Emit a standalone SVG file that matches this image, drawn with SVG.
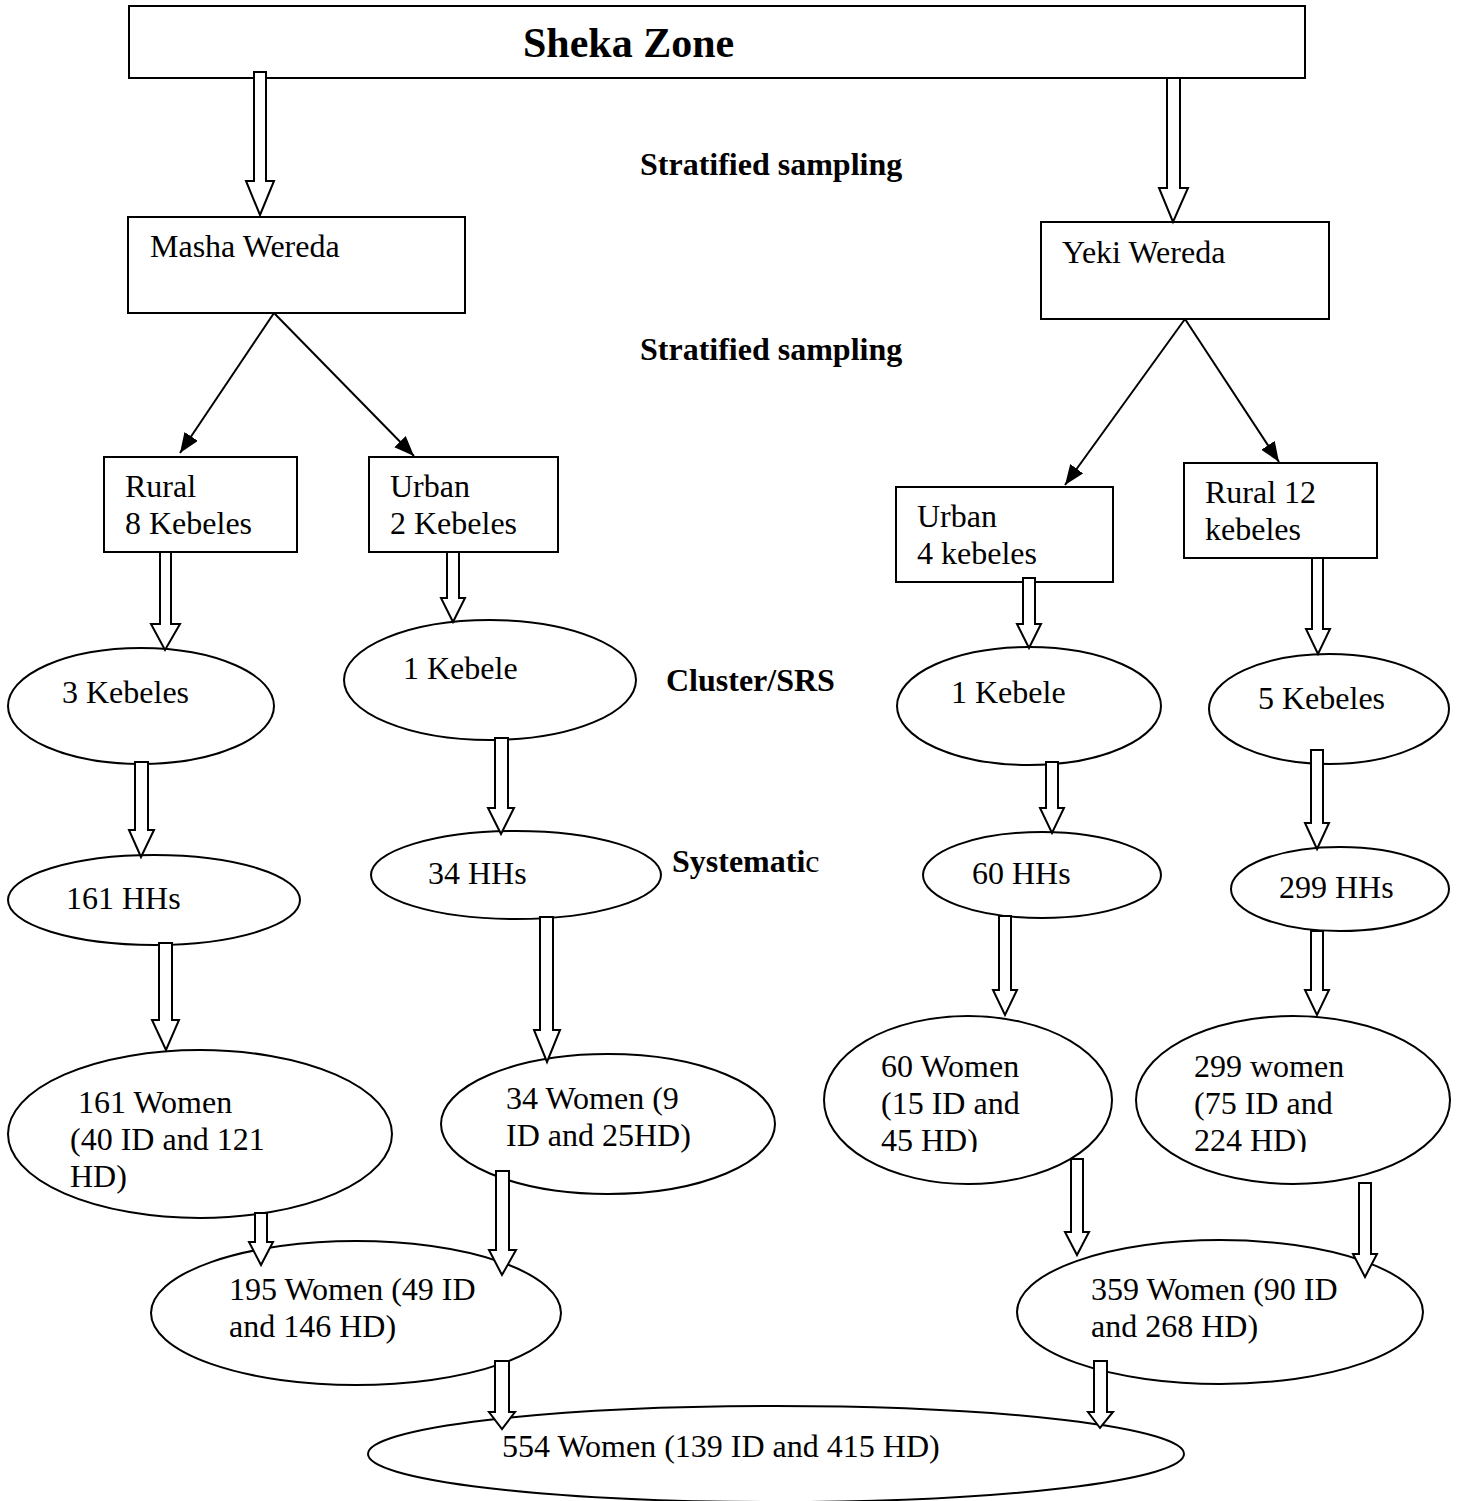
<svg xmlns="http://www.w3.org/2000/svg" width="1458" height="1501" viewBox="0 0 1458 1501">
<style>
.s{fill:#fff;stroke:#000;stroke-width:2}
.t{font-family:"Liberation Serif","Times New Roman",serif;font-size:32px;fill:#000}
.b{font-family:"Liberation Serif","Times New Roman",serif;font-size:32px;font-weight:bold;fill:#000}
.ln{stroke:#000;stroke-width:2;fill:none}
.ba{fill:#fff;stroke:#000;stroke-width:2;stroke-linejoin:miter}
</style>
<defs>
<marker id="ahb" viewBox="0 0 20 16" refX="20" refY="8" markerWidth="20" markerHeight="16" orient="auto" markerUnits="userSpaceOnUse">
<path d="M0,0 L20,8 L0,16 Z" fill="#000"/>
</marker>
<clipPath id="c1"><rect x="824" y="1016" width="290" height="136"/></clipPath>
<clipPath id="c2"><rect x="1136" y="1016" width="316" height="136"/></clipPath>
</defs>
<rect width="1458" height="1501" fill="#fff"/>

<g id="sheka"><rect class="s" x="129" y="6" width="1176" height="72"/><text class="b" x="523" y="57" style="font-size:42px">Sheka Zone</text></g>
<g id="labels">
<text class="b" x="640" y="175">Stratified sampling</text>
<text class="b" x="640" y="360">Stratified sampling</text>
<text class="b" x="666" y="691">Cluster/SRS</text>
<text class="b" x="672" y="872">Systemati<tspan style="font-weight:normal">c</tspan></text>
</g>
<g id="masha"><rect class="s" x="128" y="217" width="337" height="96"/><text class="t" x="150" y="257">Masha Wereda</text></g>
<g id="yeki"><rect class="s" x="1041" y="222" width="288" height="97"/><text class="t" x="1062" y="263">Yeki Wereda</text></g>
<g id="rural8"><rect class="s" x="104" y="457" width="193" height="95"/><text class="t" x="125" y="497">Rural</text><text class="t" x="125" y="534">8 Kebeles</text></g>
<g id="urban2"><rect class="s" x="369" y="457" width="189" height="95"/><text class="t" x="390" y="497">Urban</text><text class="t" x="390" y="534">2 Kebeles</text></g>
<g id="urban4"><rect class="s" x="896" y="487" width="217" height="95"/><text class="t" x="917" y="527">Urban</text><text class="t" x="917" y="564">4 kebeles</text></g>
<g id="rural12"><rect class="s" x="1184" y="463" width="193" height="95"/><text class="t" x="1205" y="503">Rural 12</text><text class="t" x="1205" y="540">kebeles</text></g>

<g id="k3"><ellipse class="s" cx="141" cy="706" rx="133" ry="58"/><text class="t" x="62" y="703">3 Kebeles</text></g>
<g id="k1m"><ellipse class="s" cx="490" cy="680" rx="146" ry="60"/><text class="t" x="403" y="679">1 Kebele</text></g>
<g id="k1y"><ellipse class="s" cx="1029" cy="706" rx="132" ry="59"/><text class="t" x="951" y="703">1 Kebele</text></g>
<g id="k5"><ellipse class="s" cx="1329" cy="709" rx="120" ry="55"/><text class="t" x="1258" y="709">5 Kebeles</text></g>

<g id="hh161"><ellipse class="s" cx="154" cy="900" rx="146" ry="45"/><text class="t" x="66" y="909">161 HHs</text></g>
<g id="hh34"><ellipse class="s" cx="516" cy="875" rx="145" ry="44"/><text class="t" x="428" y="884">34 HHs</text></g>
<g id="hh60"><ellipse class="s" cx="1042" cy="875" rx="119" ry="43"/><text class="t" x="972" y="884">60 HHs</text></g>
<g id="hh299"><ellipse class="s" cx="1340" cy="889" rx="109" ry="42"/><text class="t" x="1279" y="898">299 HHs</text></g>

<g id="w161"><ellipse class="s" cx="200" cy="1134" rx="192" ry="84"/><text class="t" x="78" y="1113">161 Women</text><text class="t" x="70" y="1150">(40 ID and 121</text><text class="t" x="70" y="1187">HD)</text></g>
<g id="w34"><ellipse class="s" cx="608" cy="1124" rx="167" ry="70"/><text class="t" x="506" y="1109">34 Women (9</text><text class="t" x="506" y="1146">ID and 25HD)</text></g>
<g id="w60"><ellipse class="s" cx="968" cy="1100" rx="144" ry="84"/><g clip-path="url(#c1)"><text class="t" x="881" y="1077">60 Women</text><text class="t" x="881" y="1114">(15 ID and</text><text class="t" x="881" y="1151">45 HD)</text></g></g>
<g id="w299"><ellipse class="s" cx="1293" cy="1100" rx="157" ry="84"/><g clip-path="url(#c2)"><text class="t" x="1194" y="1077">299 women</text><text class="t" x="1194" y="1114">(75 ID and</text><text class="t" x="1194" y="1151">224 HD)</text></g></g>

<g id="w195"><ellipse class="s" cx="356" cy="1313" rx="205" ry="72"/><text class="t" x="229" y="1300">195 Women (49 ID</text><text class="t" x="229" y="1337">and 146 HD)</text></g>
<g id="w359"><ellipse class="s" cx="1220" cy="1312" rx="203" ry="72"/><text class="t" x="1091" y="1300">359 Women (90 ID</text><text class="t" x="1091" y="1337">and 268 HD)</text></g>
<g id="w554"><ellipse class="s" cx="776" cy="1454" rx="408" ry="48"/><text class="t" x="502" y="1457">554 Women (139 ID and 415 HD)</text></g>

<g id="connectors">
<line class="ln" x1="274" y1="313" x2="180" y2="453" marker-end="url(#ahb)"/>
<line class="ln" x1="274" y1="313" x2="414" y2="456" marker-end="url(#ahb)"/>
<line class="ln" x1="1185" y1="319" x2="1065" y2="485" marker-end="url(#ahb)"/>
<line class="ln" x1="1185" y1="319" x2="1279" y2="462" marker-end="url(#ahb)"/>

<path class="ba" d="M254,72 H266 V181 H274 L260,215 L246,181 H254 Z"/>
<path class="ba" d="M1167,78 H1180 V188 H1188 L1173,222 L1159,188 H1167 Z"/>

<path class="ba" d="M160,552 H171 V624 H180 L165,650 L151,624 H160 Z"/>
<path class="ba" d="M447,552 H459 V598 H465 L453,622 L441,598 H447 Z"/>
<path class="ba" d="M1023,578 H1035 V624 H1041 L1029,648 L1017,624 H1023 Z"/>
<path class="ba" d="M1312,558 H1323 V629 H1330 L1318,654 L1306,629 H1312 Z"/>

<path class="ba" d="M135,762 H148 V830 H154 L141,857 L129,830 H135 Z"/>
<path class="ba" d="M495,738 H508 V808 H514 L501,834 L488,808 H495 Z"/>
<path class="ba" d="M1046,762 H1058 V808 H1064 L1052,833 L1040,808 H1046 Z"/>
<path class="ba" d="M1311,750 H1323 V823 H1329 L1317,849 L1305,823 H1311 Z"/>

<path class="ba" d="M159,943 H172 V1020 H179 L166,1050 L152,1020 H159 Z"/>
<path class="ba" d="M540,917 H553 V1030 H560 L547,1062 L534,1030 H540 Z"/>
<path class="ba" d="M999,916 H1011 V990 H1017 L1005,1015 L993,990 H999 Z"/>
<path class="ba" d="M1311,931 H1323 V990 H1329 L1317,1015 L1305,990 H1311 Z"/>

<path class="ba" d="M255,1213 H267 V1242 H273 L261,1265 L249,1242 H255 Z"/>
<path class="ba" d="M496,1171 H509 V1250 H516 L502,1275 L489,1250 H496 Z"/>
<path class="ba" d="M1071,1159 H1083 V1232 H1089 L1077,1255 L1065,1232 H1071 Z"/>
<path class="ba" d="M1359,1183 H1371 V1254 H1377 L1365,1277 L1353,1254 H1359 Z"/>

<path class="ba" d="M495,1361 H509 V1412 H515 L502,1429 L489,1412 H495 Z"/>
<path class="ba" d="M1094,1361 H1107 V1412 H1113 L1100,1428 L1088,1412 H1094 Z"/>
</g>
</svg>
